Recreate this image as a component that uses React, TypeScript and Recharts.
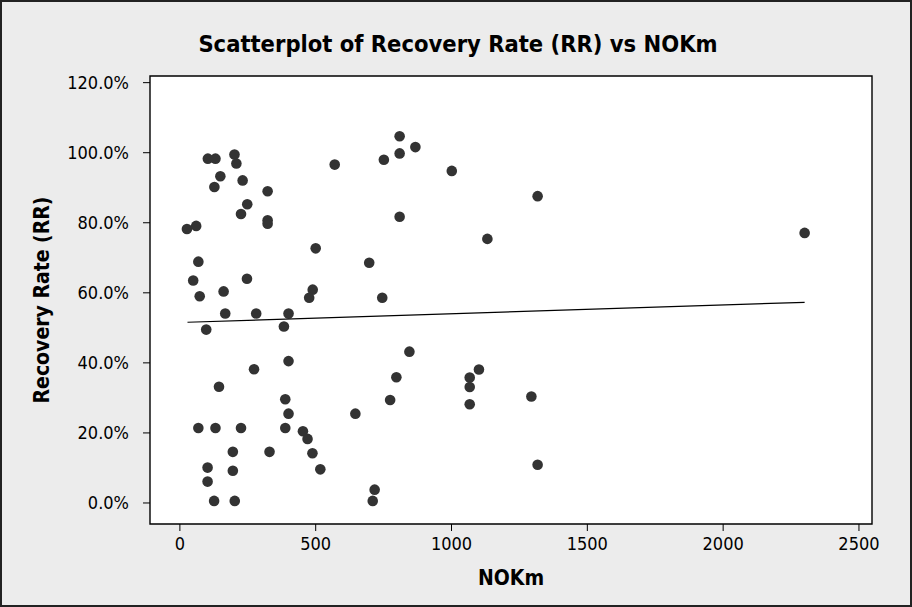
import {
  ReferenceArea,
  Scatter,
  ScatterChart,
  XAxis,
  YAxis,
} from "recharts";

// NOKm (x) and recovery rate (y, fraction)
const nokm = [
  809, 867, 809, 751, 570, 1001, 1317, 809, 500, 1132, 697, 489, 476, 745, 845, 797, 1101, 1067,
  1067, 1067, 1294, 1317, 774, 2300, 103, 131, 201, 208, 149, 127, 231, 323, 248, 225, 323, 323,
  26, 60, 68, 49, 247, 73, 161, 167, 281, 400, 97, 383, 400, 273, 144, 388, 400, 646, 68, 131,
  225, 388, 453, 470, 195, 330, 488, 517, 102, 195, 102, 126, 202, 717, 710,
];
const recoveryRate = [
  1.047, 1.016, 0.998, 0.98, 0.966, 0.948, 0.876, 0.817, 0.727, 0.754, 0.686, 0.609, 0.586, 0.586,
  0.432, 0.359, 0.381, 0.358, 0.331, 0.282, 0.304, 0.109, 0.294, 0.771, 0.983, 0.983, 0.995, 0.969,
  0.933, 0.902, 0.921, 0.89, 0.853, 0.825, 0.807, 0.797, 0.782, 0.791, 0.689, 0.635, 0.64, 0.59,
  0.604, 0.541, 0.541, 0.541, 0.495, 0.504, 0.405, 0.382, 0.332, 0.296, 0.255, 0.255, 0.214, 0.214,
  0.214, 0.214, 0.205, 0.183, 0.146, 0.146, 0.142, 0.096, 0.101, 0.092, 0.061, 0.006, 0.006, 0.038,
  0.006,
];

// fitted line end points, as drawn in the reference
const fitX = [28, 2300];
const fitY = [0.516, 0.573];

const xTicks = [0, 500, 1000, 1500, 2000, 2500];
const yTicks = [0, 0.2, 0.4, 0.6, 0.8, 1.0, 1.2];
const xDomain = [-110, 2548];
const yDomain = [-0.06, 1.219];

const points = nokm.map((x, i) => ({ x, y: recoveryRate[i] }));
const fit = fitX.map((x, i) => ({ x, y: fitY[i] }));

const font = "'DejaVu Sans Condensed', 'DejaVu Sans', sans-serif";
const tickStyle = { fill: "#000", fontSize: 18, fontFamily: font, fontStretch: "condensed" };
const labelStyle = {
  fill: "#000",
  fontSize: 21,
  fontWeight: 700,
  fontFamily: font,
  fontStretch: "condensed",
  textAnchor: "middle",
} as const;

const Dot = (props: any) => <circle cx={props.cx} cy={props.cy} r={5.3} fill="#333333" />;

export default function App() {
  return (
    <div
      style={{
        position: "absolute",
        left: 0,
        top: 0,
        width: 912,
        height: 607,
        background: "#ececec",
        boxShadow: "inset 0 0 0 2px #222",
      }}
    >
      <div
        style={{
          position: "absolute",
          left: 2,
          top: 33,
          width: 912,
          textAlign: "center",
          fontFamily: font,
          fontStretch: "condensed",
          fontWeight: 700,
          fontSize: 23.5,
          lineHeight: 1,
          color: "#000",
        }}
      >
        Scatterplot of Recovery Rate (RR) vs NOKm
      </div>
      <ScatterChart
        width={912}
        height={607}
        margin={{ top: 76, right: 40, bottom: 22, left: 0 }}
        style={{ position: "absolute", left: 0, top: 0 }}
      >
        <ReferenceArea
          x1={xDomain[0]}
          x2={xDomain[1]}
          y1={yDomain[0]}
          y2={yDomain[1]}
          fill="#fff"
          fillOpacity={1}
          stroke="#000"
          strokeWidth={1.4}
          ifOverflow="visible"
        />
        <XAxis
          type="number"
          dataKey="x"
          domain={xDomain}
          ticks={xTicks}
          allowDataOverflow
          height={61}
          axisLine={false}
          tickLine={{ stroke: "#000" }}
          tickSize={7}
          tickMargin={6}
          tick={tickStyle}
          label={{ value: "NOKm", position: "insideBottom", offset: 0, style: labelStyle }}
        />
        <YAxis
          type="number"
          dataKey="y"
          domain={yDomain}
          ticks={yTicks}
          allowDataOverflow
          width={150}
          axisLine={false}
          tickLine={{ stroke: "#000" }}
          tickSize={7}
          tickMargin={14}
          tick={tickStyle}
          tickFormatter={(v: number) => `${(v * 100).toFixed(1)}%`}
          label={{
            value: "Recovery Rate (RR)",
            angle: -90,
            position: "insideLeft",
            offset: 42,
            style: labelStyle,
          }}
        />
        <Scatter data={points} shape={Dot} isAnimationActive={false} />
        <Scatter
          data={fit}
          line={{ stroke: "#000", strokeWidth: 1.2 }}
          shape={() => null}
          legendType="none"
          isAnimationActive={false}
        />
      </ScatterChart>
    </div>
  );
}
